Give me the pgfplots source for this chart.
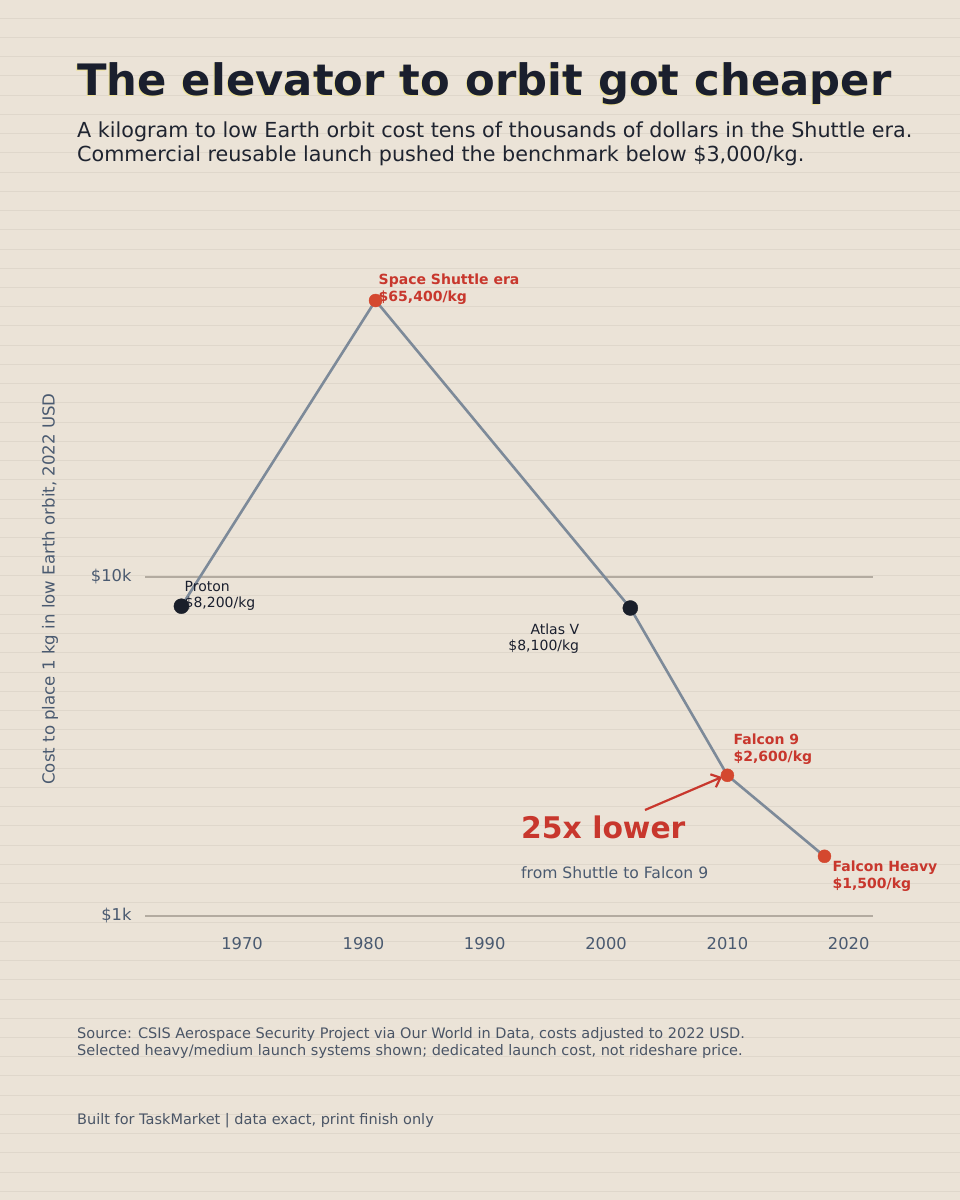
\documentclass[border=0pt]{standalone}
\usepackage{pgfplots}
\pgfplotsset{compat=1.18}
\usetikzlibrary{arrows.meta}
\usepackage{fontspec}
\setmainfont{DejaVu Sans}
\definecolor{bg}{HTML}{EBE3D7}
\definecolor{stripe}{HTML}{DFD7CB}
\definecolor{titlec}{HTML}{1A1F2E}
\definecolor{subc}{HTML}{1F2430}
\definecolor{tickc}{HTML}{4A5A70}
\definecolor{redc}{HTML}{C8372D}
\definecolor{redm}{HTML}{D4482F}
\definecolor{darkm}{HTML}{1A1F2A}
\definecolor{linec}{HTML}{7D8A99}
\definecolor{gridc}{HTML}{B3ABA0}
\definecolor{footc}{HTML}{4A5566}
\definecolor{glow}{HTML}{F2E27A}
\begin{document}
\begin{tikzpicture}
\fill[bg] (0pt,0pt) rectangle (960pt,1200pt);
\useasboundingbox (0pt,0pt) rectangle (960pt,1200pt);
\foreach \k in {0,...,61} {
  \pgfmathsetmacro{\yy}{1200-18.3-\k*19.23}
  \draw[stripe, line width=1pt] (0pt,\yy pt) -- (960pt,\yy pt);
}
% title
\node[anchor=base west, inner sep=0, text=glow!70!bg, font={\bfseries\fontsize{43.3}{50}\selectfont}] at (76pt,1103pt) {The elevator to orbit got cheaper};
\node[anchor=base west, inner sep=0, text=titlec, font={\bfseries\fontsize{43.3}{50}\selectfont}] at (77pt,1104pt) {The elevator to orbit got cheaper};
\node[anchor=base west, inner sep=0, text=subc, font={\fontsize{20.7}{24}\selectfont}] at (77pt,1062pt) {A kilogram to low Earth orbit cost tens of thousands of dollars in the Shuttle era.};
\node[anchor=base west, inner sep=0, text=subc, font={\fontsize{20.7}{24}\selectfont}] at (77pt,1038pt) {Commercial reusable launch pushed the benchmark below \$3,000/kg.};
% y label
\node[rotate=90, inner sep=0, text=tickc, font={\fontsize{16.6}{19}\selectfont}] at (50pt,611pt) {Cost to place 1 kg in low Earth orbit, 2022 USD};
% footer
\node[anchor=base west, inner sep=0, text=footc, font={\fontsize{14.5}{17}\selectfont}] at (77pt,161pt) {Source: CSIS Aerospace Security Project via Our World in Data, costs adjusted to 2022 USD.};
\node[anchor=base west, inner sep=0, text=footc, font={\fontsize{14.5}{17}\selectfont}] at (77pt,144pt) {Selected heavy/medium launch systems shown; dedicated launch cost, not rideshare price.};
\node[anchor=base west, inner sep=0, text=footc, font={\fontsize{14.5}{17}\selectfont}] at (77pt,75pt) {Built for TaskMarket | data exact, print finish only};
\begin{axis}[
  at={(145pt,284pt)}, anchor=south west,
  scale only axis, width=728pt, height=678pt,
  ymode=log, ymin=1000, ymax=100000,
  xmin=1962, xmax=2022,
  clip=false,
  axis line style={draw=none},
  major tick style={draw=none},
  minor tick style={draw=none},
  ytick={1000,10000}, yticklabels={\$1k,\$10k},
  xtick={1970,1980,1990,2000,2010,2020},
  xticklabels={1970,1980,1990,2000,2010,2020},
  ymajorgrids, grid style={gridc, line width=1.2pt},
  tick label style={text=tickc, font={\fontsize{16.3}{19}\selectfont}},
  xticklabel style={yshift=-18pt},
  yticklabel style={xshift=-10pt},
]
\addplot[linec, line width=2.6pt] coordinates {(1965,8200) (1981,65400) (2002,8100) (2010,2600) (2018,1500)};
\addplot[only marks, mark=*, mark size=7.5pt, mark options={fill=darkm, draw=darkm}] coordinates {(1965,8200) (2002,8100)};
\addplot[only marks, mark=*, mark size=6.5pt, mark options={fill=redm, draw=redm}] coordinates {(1981,65400) (2010,2600) (2018,1500)};
% labels
\node[anchor=base west, inner sep=0, text=redc, font={\bfseries\fontsize{14}{16}\selectfont}, xshift=3pt, yshift=16pt] at (axis cs:1981,65400) {Space Shuttle era};
\node[anchor=base west, inner sep=0, text=redc, font={\bfseries\fontsize{14}{16}\selectfont}, xshift=3pt, yshift=-1pt] at (axis cs:1981,65400) {\$65,400/kg};
\node[anchor=base west, inner sep=0, text=titlec, font={\fontsize{14}{16}\selectfont}, xshift=3pt, yshift=15pt] at (axis cs:1965,8200) {Proton};
\node[anchor=base west, inner sep=0, text=titlec, font={\fontsize{14}{16}\selectfont}, xshift=3pt, yshift=-1pt] at (axis cs:1965,8200) {\$8,200/kg};
\node[anchor=base east, inner sep=0, text=titlec, font={\fontsize{14}{16}\selectfont}, xshift=-51pt, yshift=-26pt] at (axis cs:2002,8100) {Atlas V};
\node[anchor=base east, inner sep=0, text=titlec, font={\fontsize{14}{16}\selectfont}, xshift=-51pt, yshift=-42pt] at (axis cs:2002,8100) {\$8,100/kg};
\node[anchor=base west, inner sep=0, text=redc, font={\bfseries\fontsize{14}{16}\selectfont}, xshift=6pt, yshift=31pt] at (axis cs:2010,2600) {Falcon 9};
\node[anchor=base west, inner sep=0, text=redc, font={\bfseries\fontsize{14}{16}\selectfont}, xshift=6pt, yshift=14pt] at (axis cs:2010,2600) {\$2,600/kg};
\node[anchor=base west, inner sep=0, text=redc, font={\bfseries\fontsize{14}{16}\selectfont}, xshift=8pt, yshift=-15pt] at (axis cs:2018,1500) {Falcon Heavy};
\node[anchor=base west, inner sep=0, text=redc, font={\bfseries\fontsize{14}{16}\selectfont}, xshift=8pt, yshift=-32pt] at (axis cs:2018,1500) {\$1,500/kg};
\node[anchor=base west, inner sep=0, text=redc, font={\bfseries\fontsize{29.8}{34}\selectfont}] at (rel axis cs:0.5165,0.1136) {25x lower};
\node[anchor=base west, inner sep=0, text=tickc, font={\fontsize{15.6}{18}\selectfont}] at (rel axis cs:0.5165,0.0546) {from Shuttle to Falcon 9};
\draw[redc, line width=2.2pt, -{Straight Barb[length=8pt,width=14pt,line width=2.2pt]}] (rel axis cs:0.6868,0.1563) -- (rel axis cs:0.7926,0.2050);
\end{axis}
\end{tikzpicture}
\end{document}
